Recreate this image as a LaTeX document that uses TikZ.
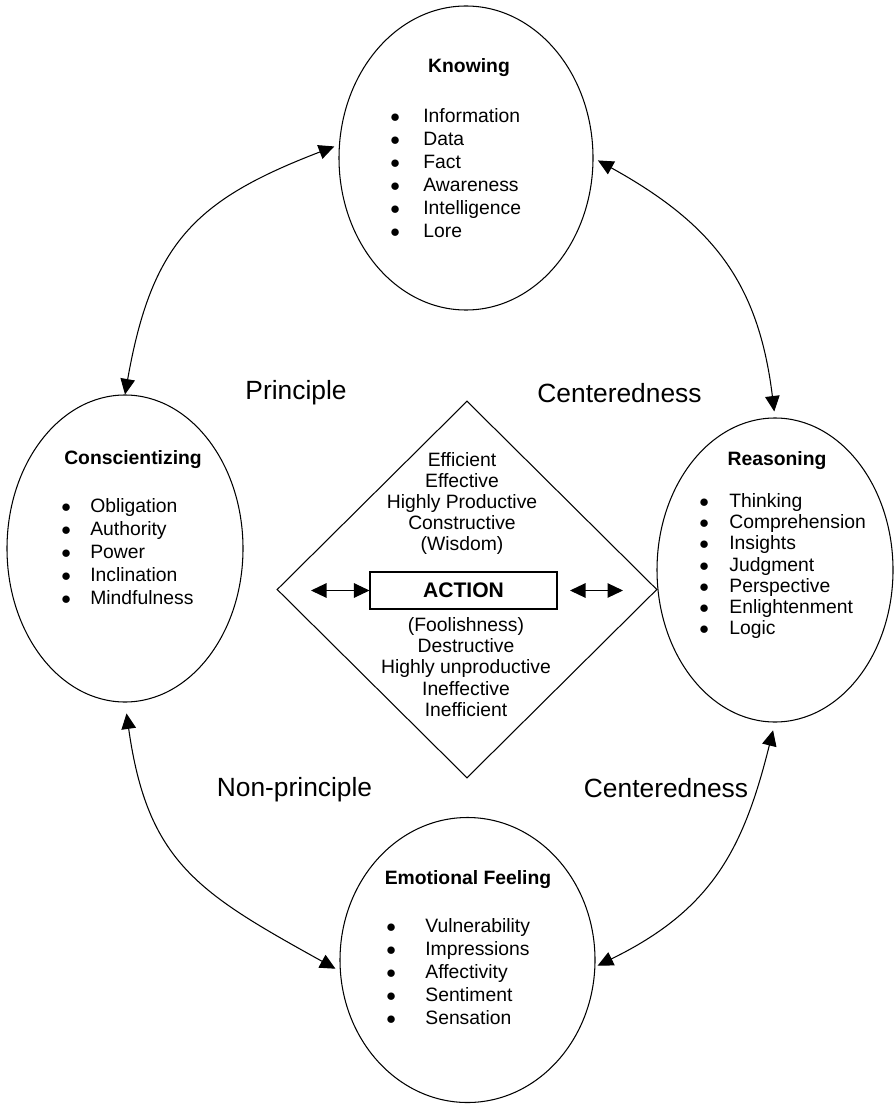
\documentclass[tikz,border=0pt]{standalone}
\usepackage{fontspec}
\setmainfont{Liberation Sans}
\usepackage{tikz}
\usetikzlibrary{positioning, arrows.meta, shapes.geometric}
\newcommand{\bitem}[2][0.62cm]{\makebox[#1][l]{$\bullet$}#2}

\begin{document}
\begin{tikzpicture}
		\tikzstyle{bubble} = [ellipse, draw, line width=0.6pt, inner sep=0]
		\tikzstyle{title} = [font=\bfseries\fontsize{11}{13}\selectfont, inner sep=0]
		\tikzstyle{items} = [align=left, anchor=west, font=\fontsize{11}{13}\selectfont, inner sep=0]
		\tikzstyle{words} = [align=center, font=\fontsize{11}{12}\selectfont, inner sep=0]
		\tikzstyle{side} = [font=\fontsize{15}{18}\selectfont, inner sep=0]
		\tikzstyle{dbl} = [{Triangle[length=3.1mm,width=2.9mm]}-{Triangle[length=3.1mm,width=2.9mm]}, line width=0.6pt]
		\useasboundingbox (0,0) rectangle (17.9,-22.12);
		\node [bubble, minimum width=5.08cm, minimum height=6.08cm] (know) at (9.32,-3.16) {};
		\node [bubble, minimum width=4.72cm, minimum height=6.14cm] (consc) at (2.5,-10.97) {};
		\node [bubble, minimum width=4.72cm, minimum height=6.08cm] (reas) at (15.5,-11.4) {};
		\node [bubble, minimum width=5.1cm, minimum height=5.7cm] (emo) at (9.35,-19.2) {};
		\node [title] (knowT) at (9.38,-1.36) {Knowing};
		\node [items] (knowL) at (7.8,-3.46) {\bitem[0.66cm]{Information}\\ \bitem[0.66cm]{Data}\\ \bitem[0.66cm]{Fact}\\ \bitem[0.66cm]{Awareness}\\ \bitem[0.66cm]{Intelligence}\\ \bitem[0.66cm]{Lore}};
		\node [title] (conscT) at (2.66,-9.2) {Conscientizing};
		\node [items] (conscL) at (1.22,-11.03) {\bitem[0.58cm]{Obligation}\\ \bitem[0.58cm]{Authority}\\ \bitem[0.58cm]{Power}\\ \bitem[0.58cm]{Inclination}\\ \bitem[0.58cm]{Mindfulness}};
		\node [title] (reasT) at (15.54,-9.22) {Reasoning};
		\node [items, font=\fontsize{11}{12}\selectfont] (reasL) at (13.98,-11.32) {\bitem[0.6cm]{Thinking}\\ \bitem[0.6cm]{Comprehension}\\ \bitem[0.6cm]{Insights}\\ \bitem[0.6cm]{Judgment}\\ \bitem[0.6cm]{Perspective}\\ \bitem[0.6cm]{Enlightenment}\\ \bitem[0.6cm]{Logic}};
		\node [title] (emoT) at (9.36,-17.6) {Emotional Feeling};
		\node [items] (emoL) at (7.72,-19.43) {\bitem[0.78cm]{Vulnerability}\\ \bitem[0.78cm]{Impressions}\\ \bitem[0.78cm]{Affectivity}\\ \bitem[0.78cm]{Sentiment}\\ \bitem[0.78cm]{Sensation}};
		% centre
		\node [diamond, draw, line width=0.6pt, inner sep=0, minimum width=7.6cm, minimum height=7.54cm] (act) at (9.34,-11.79) {};
		\node [draw, line width=0.6pt, inner sep=0, minimum width=3.74cm, minimum height=0.74cm, font=\bfseries\fontsize{12}{14}\selectfont] (actbox) at (9.27,-11.81) {ACTION};
		\node [words] (wise) at (9.24,-10.07) {Efficient\\ Effective\\ Highly Productive\\ Constructive\\ (Wisdom)};
		\node [words] (fool) at (9.32,-13.34) {(Foolishness)\\ Destructive\\ Highly unproductive\\ Ineffective\\ Inefficient};
		\coordinate (la) at (6.22,-11.81);
		\coordinate (ra1) at (11.4,-11.81);
		\coordinate (ra2) at (12.46,-11.81);
		\draw [dbl] (la) -- (actbox.west);
		\draw [dbl] (ra1) -- (ra2);
		% labels
		\node [side] (prin) at (5.92,-7.86) {Principle};
		\node [side] (cent1) at (12.39,-7.86) {Centeredness};
		\node [side] (nonprin) at (5.89,-15.8) {Non-principle};
		\node [side] (cent2) at (13.32,-15.76) {Centeredness};
		% cycle
		\draw [dbl, shorten <=0.1cm, looseness=1.2] (know.174) to[out=201, in=80] (consc.north);
		\draw [dbl, shorten <=0.1cm, shorten >=0.12cm, looseness=1.1] (know.east) to[out=-29, in=97] (reas.north);
		\draw [dbl, shorten <=0.22cm, shorten >=0.1cm, looseness=1.2] (consc.south) to[out=-82, in=151] (emo.185);
		\draw [dbl, shorten <=0.16cm, shorten >=0.05cm, looseness=1.1] (reas.south) to[out=256, in=26] (emo.-3);
\end{tikzpicture}
\end{document}
